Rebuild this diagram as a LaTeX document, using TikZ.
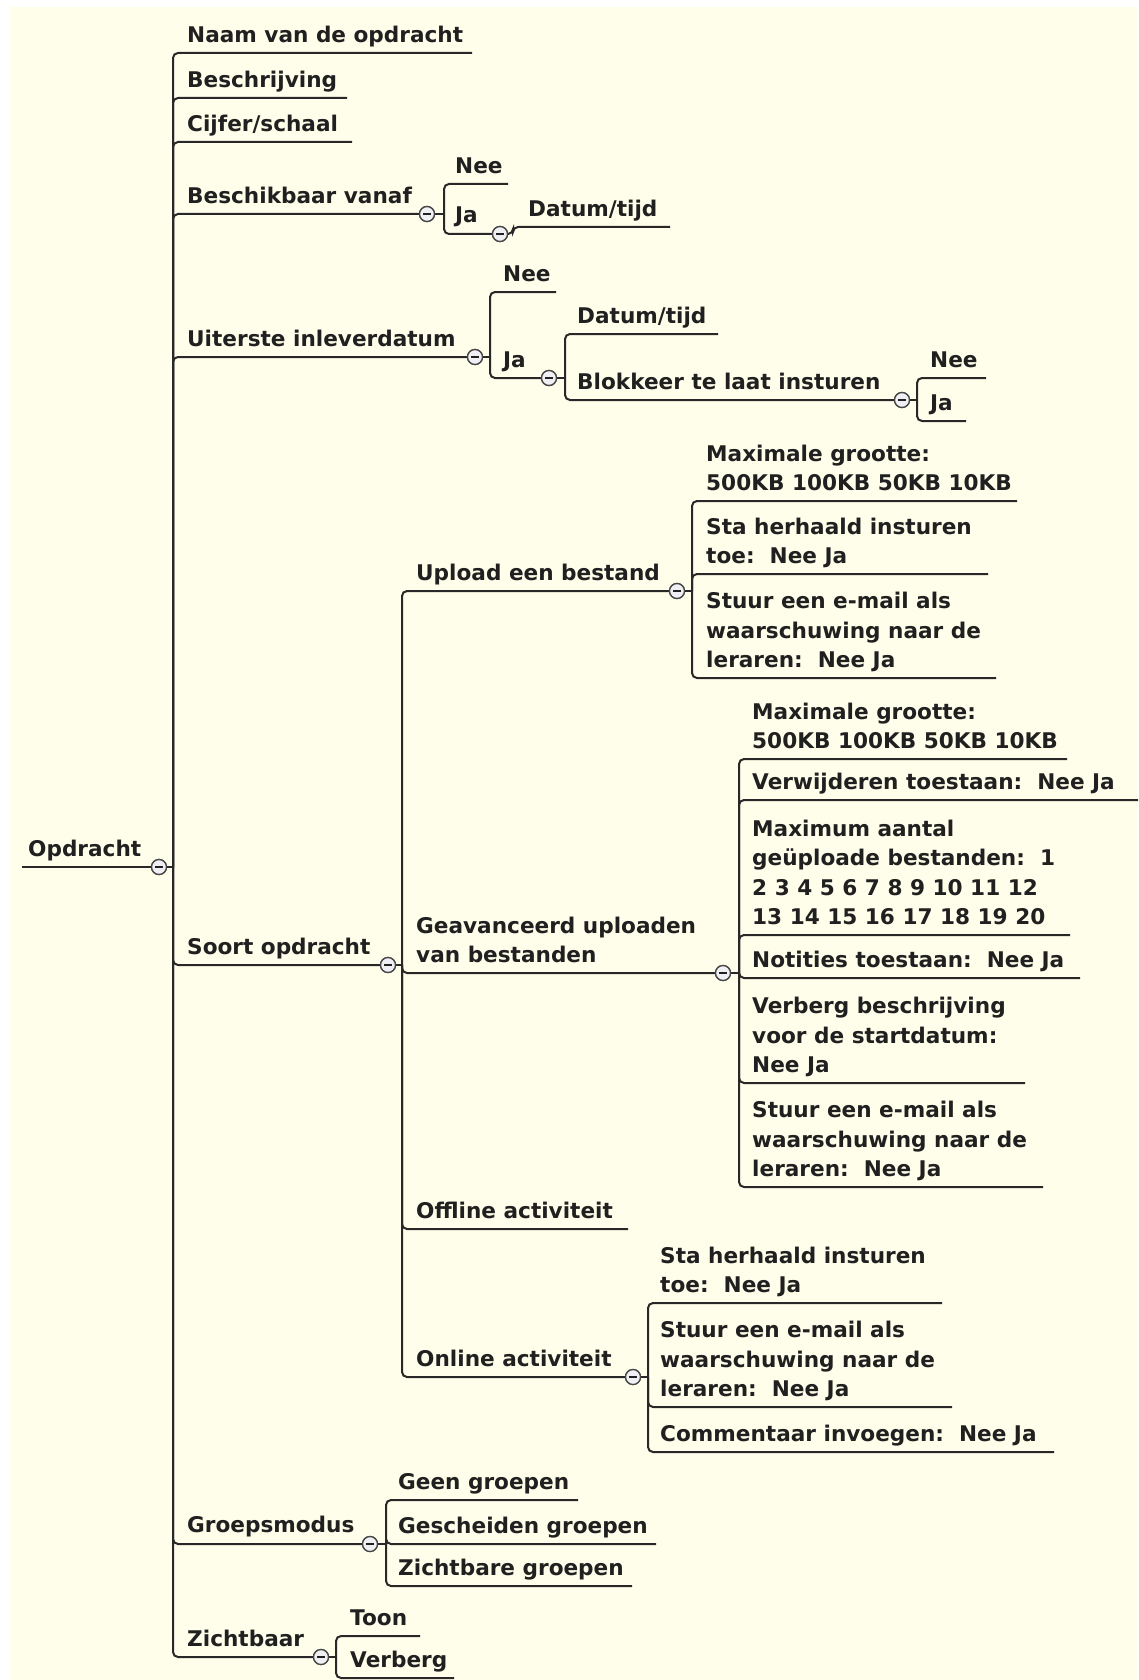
\documentclass[tikz,border=0pt]{standalone}
\usepackage{fontspec}
\setmainfont{DejaVu Sans}
\frenchspacing
\definecolor{paper}{RGB}{255,254,234}
\definecolor{ink}{RGB}{32,32,32}
\definecolor{wire}{RGB}{40,40,40}
\definecolor{knobfill}{RGB}{240,240,244}
\definecolor{knobedge}{RGB}{70,70,70}
\tikzset{
  link/.style={draw=wire, line width=2pt, rounded corners=5pt},
  topic/.style={anchor=south west, inner sep=0pt, text depth=0pt, align=left,
    text=ink, font=\bfseries\fontsize{21.6}{29.6}\selectfont},
  toggle/.style={circle, draw=knobedge, fill=knobfill, line width=1.3pt,
    minimum size=15pt, inner sep=0pt,
    path picture={\draw[ink, line width=1.6pt]
      ([xshift=-3.6pt]path picture bounding box.center) --
      ([xshift=3.6pt]path picture bounding box.center);}}
}
\begin{document}
\begin{tikzpicture}[x=1pt,y=-1pt]
\useasboundingbox (0,0) rectangle (1138,1680);
\fill[white] (0,0) rectangle (1138,1680);
\fill[paper] (10,7) rectangle (1138,1680);

% ---------- root ----------
\node[topic] (root) at (28,857) {Opdracht};
\coordinate (root-s) at (22,867);
\node[toggle] (root-c) at (159,867) {};
\coordinate (root-j) at (173,867);

% ---------- first level ----------
\node[topic] (naam) at (187,43) {Naam van de opdracht};
\coordinate (naam-e) at (472,53);
\node[topic] (beschr) at (187,88) {Beschrijving};
\coordinate (beschr-e) at (347,98);
\node[topic] (cijfer) at (187,132) {Cijfer/schaal};
\coordinate (cijfer-e) at (352,142);

\node[topic] (vanaf) at (187,204) {Beschikbaar vanaf};
\node[toggle] (vanaf-c) at (427,214) {};
\coordinate (vanaf-j) at (444,214);
\node[topic] (vanaf-nee) at (455,174) {Nee};
\coordinate (vanaf-nee-e) at (508,184);
\node[topic] (vanaf-ja) at (455,223) {Ja};
\node[toggle] (vanaf-ja-c) at (500,234) {};
\coordinate (vanaf-ja-j) at (513,234);
\node[topic] (vanaf-dt) at (528,217) {Datum/tijd};
\coordinate (vanaf-dt-e) at (670,227);

\node[topic] (uit) at (187,347) {Uiterste inleverdatum};
\node[toggle] (uit-c) at (475,357) {};
\coordinate (uit-j) at (490,357);
\node[topic] (uit-nee) at (503,282) {Nee};
\coordinate (uit-nee-e) at (556,292);
\node[topic] (uit-ja) at (503,368) {Ja};
\node[toggle] (uit-ja-c) at (549,378) {};
\coordinate (uit-ja-j) at (565,378);
\node[topic] (uit-dt) at (577,324) {Datum/tijd};
\coordinate (uit-dt-e) at (718,334);
\node[topic] (blok) at (577,390) {Blokkeer te laat insturen};
\node[toggle] (blok-c) at (902,400) {};
\coordinate (blok-j) at (917,400);
\node[topic] (blok-nee) at (930,368) {Nee};
\coordinate (blok-nee-e) at (986,378);
\node[topic] (blok-ja) at (930,411) {Ja};
\coordinate (blok-ja-e) at (966,421);

\node[topic] (soort) at (187,955) {Soort opdracht};
\node[toggle] (soort-c) at (388,965) {};
\coordinate (soort-j) at (402,965);

\node[topic] (groep) at (187,1533) {Groepsmodus};
\node[toggle] (groep-c) at (370,1544) {};
\coordinate (groep-j) at (386,1544);
\node[topic] (geen) at (398,1490) {Geen groepen};
\coordinate (geen-e) at (578,1500);
\node[topic] (gesch) at (398,1534) {Gescheiden groepen};
\coordinate (gesch-e) at (656,1544);
\node[topic] (zgroep) at (398,1576) {Zichtbare groepen};
\coordinate (zgroep-e) at (632,1586);

\node[topic] (zicht) at (187,1647) {Zichtbaar};
\node[toggle] (zicht-c) at (321,1657) {};
\coordinate (zicht-j) at (336,1657);
\node[topic] (toon) at (350,1626) {Toon};
\coordinate (toon-e) at (420,1636);
\node[topic] (verb) at (350,1668) {Verberg};
\coordinate (verb-e) at (454,1678);

% ---------- kinds of assignment ----------
\node[topic] (upl) at (416,581) {Upload een bestand};
\node[toggle] (upl-c) at (677,591) {};
\coordinate (upl-j) at (692,591);
\node[topic] (upl-max) at (706,491) {Maximale grootte:\\500KB 100KB 50KB 10KB};
\coordinate (upl-max-e) at (1017,501);
\node[topic] (upl-her) at (706,564) {Sta herhaald insturen\\toe:\ \ Nee Ja};
\coordinate (upl-her-e) at (988,574);
\node[topic] (upl-mail) at (706,668) {Stuur een e-mail als\\waarschuwing naar de\\leraren:\ \ Nee Ja};
\coordinate (upl-mail-e) at (996,678);

\node[topic] (gav) at (416,963) {Geavanceerd uploaden\\van bestanden};
\node[toggle] (gav-c) at (723,973) {};
\coordinate (gav-j) at (739,973);
\node[topic] (gav-max) at (752,749) {Maximale grootte:\\500KB 100KB 50KB 10KB};
\coordinate (gav-max-e) at (1067,759);
\node[topic] (gav-del) at (752,790) {Verwijderen toestaan:\ \ Nee Ja};
\coordinate (gav-del-e) at (1138,800);
\node[topic] (gav-aant) at (752,925) {Maximum aantal\\ge\"uploade bestanden:\ \ 1\\2 3 4 5 6 7 8 9 10 11 12\\13 14 15 16 17 18 19 20};
\coordinate (gav-aant-e) at (1070,935);
\node[topic] (gav-not) at (752,968) {Notities toestaan:\ \ Nee Ja};
\coordinate (gav-not-e) at (1080,978);
\node[topic] (gav-verb) at (752,1073) {Verberg beschrijving\\voor de startdatum:\\Nee Ja};
\coordinate (gav-verb-e) at (1025,1083);
\node[topic] (gav-mail) at (752,1177) {Stuur een e-mail als\\waarschuwing naar de\\leraren:\ \ Nee Ja};
\coordinate (gav-mail-e) at (1043,1187);

\node[topic] (off) at (416,1219) {Offline activiteit};
\coordinate (off-e) at (628,1229);

\node[topic] (onl) at (416,1367) {Online activiteit};
\node[toggle] (onl-c) at (633,1377) {};
\coordinate (onl-j) at (648,1377);
\node[topic] (onl-her) at (660,1293) {Sta herhaald insturen\\toe:\ \ Nee Ja};
\coordinate (onl-her-e) at (942,1303);
\node[topic] (onl-mail) at (660,1397) {Stuur een e-mail als\\waarschuwing naar de\\leraren:\ \ Nee Ja};
\coordinate (onl-mail-e) at (952,1407);
\node[topic] (onl-com) at (660,1442) {Commentaar invoegen:\ \ Nee Ja};
\coordinate (onl-com-e) at (1054,1452);

% ---------- connectors ----------
\begin{scope}[on background layer/.try]
\draw[link] (root-s) -- (root-c.west);
\draw[link] (root-c.east) -- (root-j);
\foreach \k in {naam-e,beschr-e,cijfer-e,vanaf-c.west,uit-c.west,soort-c.west,groep-c.west,zicht-c.west}
  \draw[link] (root-j) |- (\k);

\draw[link] (vanaf-c.east) -- (vanaf-j);
\draw[link] (vanaf-j) |- (vanaf-nee-e);
\draw[link] (vanaf-j) |- (vanaf-ja-c.west);
\draw[link] (vanaf-ja-c.east) -- (vanaf-ja-j) |- (vanaf-dt-e);

\draw[link] (uit-c.east) -- (uit-j);
\draw[link] (uit-j) |- (uit-nee-e);
\draw[link] (uit-j) |- (uit-ja-c.west);
\draw[link] (uit-ja-c.east) -- (uit-ja-j);
\draw[link] (uit-ja-j) |- (uit-dt-e);
\draw[link] (uit-ja-j) |- (blok-c.west);
\draw[link] (blok-c.east) -- (blok-j);
\draw[link] (blok-j) |- (blok-nee-e);
\draw[link] (blok-j) |- (blok-ja-e);

\draw[link] (soort-c.east) -- (soort-j);
\foreach \k in {upl-c.west,gav-c.west,off-e,onl-c.west}
  \draw[link] (soort-j) |- (\k);

\draw[link] (upl-c.east) -- (upl-j);
\foreach \k in {upl-max-e,upl-her-e,upl-mail-e}
  \draw[link] (upl-j) |- (\k);

\draw[link] (gav-c.east) -- (gav-j);
\foreach \k in {gav-max-e,gav-del-e,gav-aant-e,gav-not-e,gav-verb-e,gav-mail-e}
  \draw[link] (gav-j) |- (\k);

\draw[link] (onl-c.east) -- (onl-j);
\foreach \k in {onl-her-e,onl-mail-e,onl-com-e}
  \draw[link] (onl-j) |- (\k);

\draw[link] (groep-c.east) -- (groep-j);
\foreach \k in {geen-e,gesch-e,zgroep-e}
  \draw[link] (groep-j) |- (\k);

\draw[link] (zicht-c.east) -- (zicht-j);
\foreach \k in {toon-e,verb-e}
  \draw[link] (zicht-j) |- (\k);
\end{scope}

% toggles redrawn above the wires
\foreach \t in {root-c,vanaf-c,vanaf-ja-c,uit-c,uit-ja-c,blok-c,soort-c,upl-c,gav-c,onl-c,groep-c,zicht-c}
  \node[toggle] at (\t) {};
\end{tikzpicture}
\end{document}
